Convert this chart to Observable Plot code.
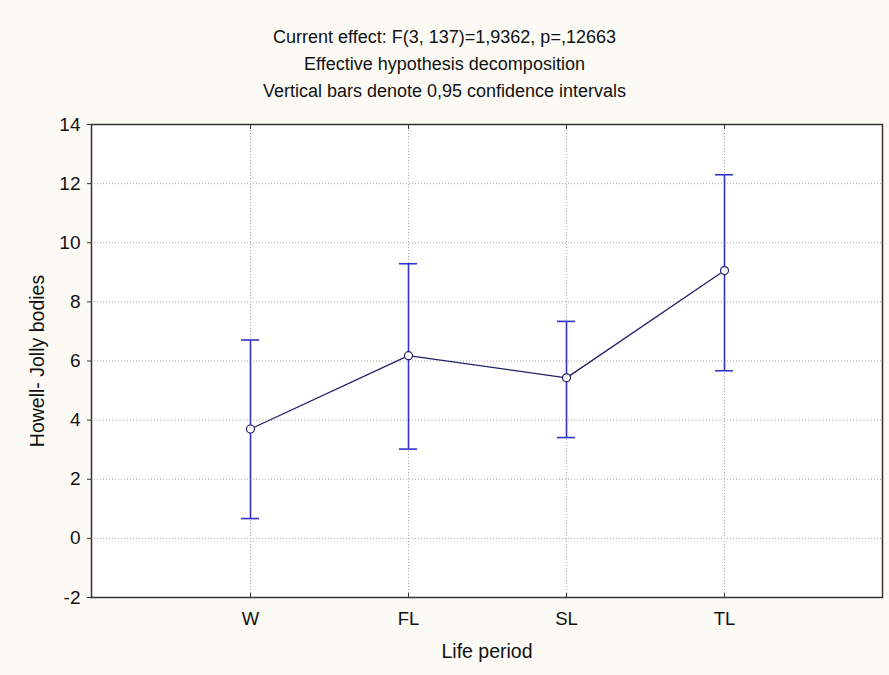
<!DOCTYPE html>
<html><head><meta charset="utf-8">
<script src="https://cdn.jsdelivr.net/npm/d3@7"></script>
<script src="https://cdn.jsdelivr.net/npm/@observablehq/plot@0.6"></script>
<style>
body{margin:0;background:#fcfaf5;font-family:"Liberation Sans",Arial,sans-serif;}
#title{padding-top:24px;text-align:center;font-size:18px;line-height:27px;color:#111;height:81px;width:889px}
#chart svg{display:block}
</style></head><body>
<div id="title"><div>Current effect: F(3, 137)=1,9362, p=,12663</div><div>Effective hypothesis decomposition</div><div>Vertical bars denote 0,95 confidence intervals</div></div>
<div id="chart"></div>
<script>
const periods = ["W", "FL", "SL", "TL"];
const means = [3.70, 6.18, 5.43, 9.06];
const lower = [0.67, 3.02, 3.41, 5.67];
const upper = [6.71, 9.29, 7.34, 12.30];
const yTicks = [-2, 0, 2, 4, 6, 8, 10, 12, 14];

const data = periods.map((p, i) => ({period: p, mean: means[i], lo: lower[i], hi: upper[i]}));
const gridY = yTicks.filter(t => t > -2 && t < 14);

const chart = Plot.plot({
  width: 889,
  height: 570,
  marginTop: 19,
  marginBottom: 78,
  marginLeft: 91,
  marginRight: 7,
  style: {fontFamily: "'Liberation Sans', Arial, sans-serif", fontSize: "18.5px", background: "transparent", color: "#111"},
  x: {type: "point", domain: periods, padding: 1},
  y: {domain: [-2, 14]},
  marks: [
    Plot.frame({fill: "white"}),
    Plot.ruleY(gridY, {stroke: "#a8a8a8", strokeDasharray: "1,2", strokeWidth: 1}),
    Plot.ruleX(periods, {stroke: "#a8a8a8", strokeDasharray: "1,2", strokeWidth: 1}),
    Plot.axisY({ticks: yTicks, tickFormat: d => String(d), tickSize: 4, tickPadding: 7, stroke: "#333", fontSize: 19, label: null}),
    Plot.axisY({ticks: [], label: "Howell- Jolly bodies", labelAnchor: "center", labelArrow: "none", labelOffset: 61, fontSize: 19.5}),
    Plot.axisX({tickSize: -4, tickPadding: 18, stroke: "#333", fontSize: 18.5, label: null}),
    Plot.axisX({ticks: [], label: "Life period", labelAnchor: "center", labelArrow: "none", labelOffset: 60, fontSize: 19.5}),
    Plot.axisX({anchor: "top", tickSize: -4, stroke: "#333", tickFormat: () => "", label: null}),
    Plot.ruleX(data, {x: "period", y1: "lo", y2: "hi", stroke: "#3333c8", strokeWidth: 1.6}),
    Plot.ruleY(data, {x1: "period", x2: "period", y: "hi", insetLeft: -9, insetRight: -9, stroke: "#3333c8", strokeWidth: 1.6}),
    Plot.ruleY(data, {x1: "period", x2: "period", y: "lo", insetLeft: -9, insetRight: -9, stroke: "#3333c8", strokeWidth: 1.6}),
    Plot.line(data, {x: "period", y: "mean", stroke: "#20206a", strokeWidth: 1.3}),
    Plot.dot(data, {x: "period", y: "mean", r: 4, fill: "white", stroke: "#20206a", strokeWidth: 1.2}),
    Plot.frame({stroke: "#333", strokeWidth: 1.5})
  ]
});
document.getElementById("chart").appendChild(chart);
</script>
</body></html>
